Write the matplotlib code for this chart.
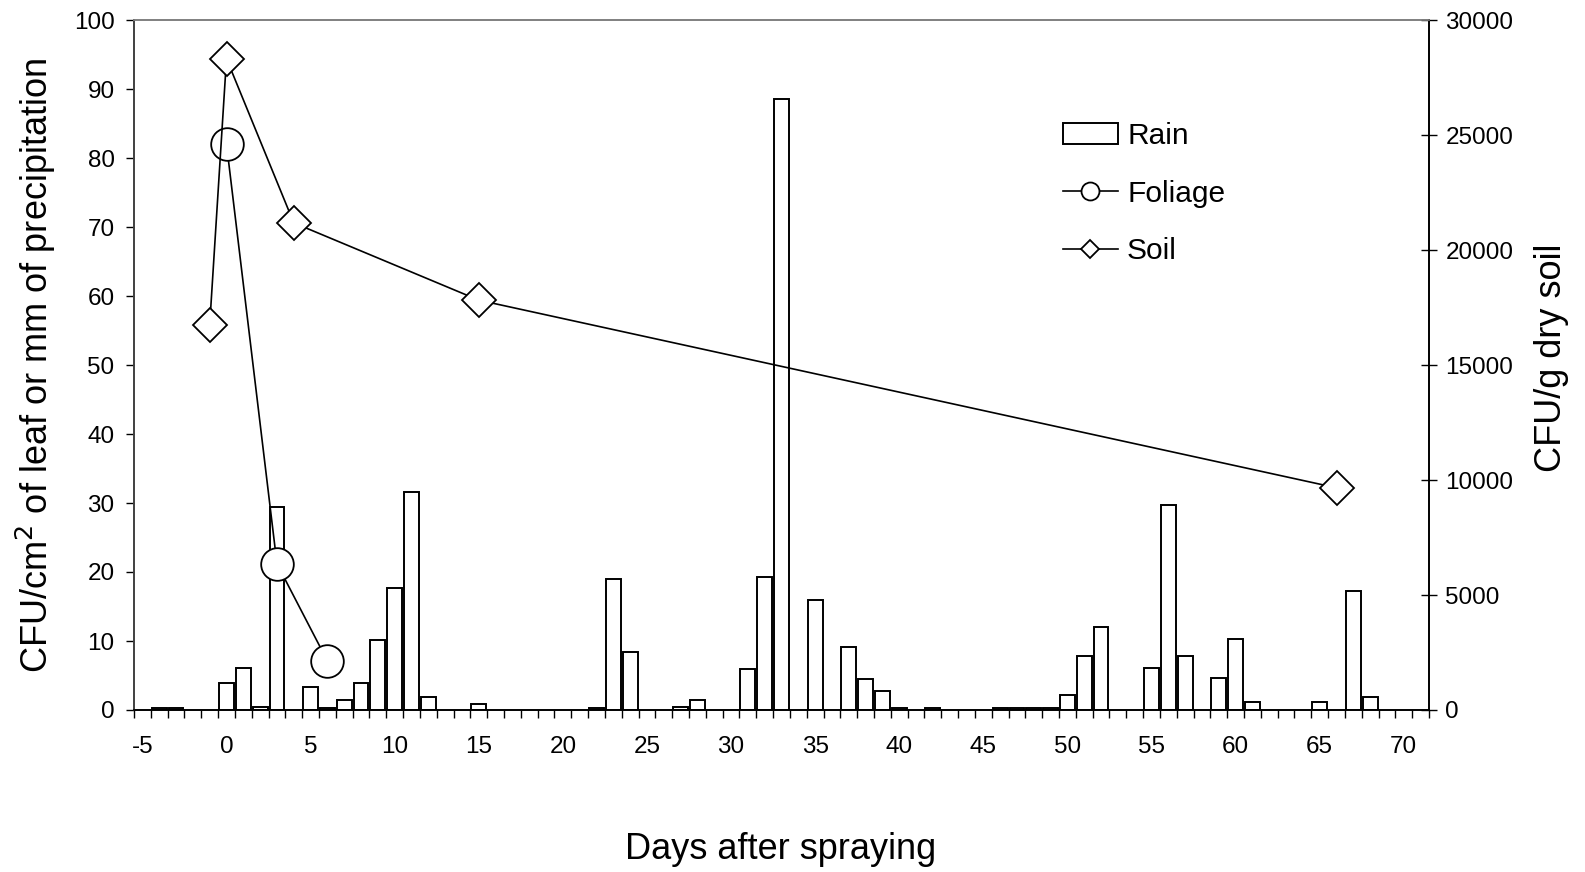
import numpy as np
import matplotlib
matplotlib.use('Agg')
import matplotlib.pyplot as plt
from matplotlib.ticker import FixedLocator

plt.rcParams['font.family'] = ['Liberation Sans', 'DejaVu Sans']
plt.rcParams['axes.unicode_minus'] = False

# Rain (mm) per day after spraying
rain_days = [-4, -3, 0, 1, 2, 3, 5, 6, 7, 8, 9, 10, 11, 12, 15, 22, 23, 24, 27, 28,
             31, 32, 33, 35, 37, 38, 39, 40, 42, 46, 47, 48, 49, 50, 51, 52,
             55, 56, 57, 59, 60, 61, 65, 67, 68]
rain_mm = [0.3, 0.3, 3.9, 6.1, 0.5, 29.4, 3.3, 0.25, 1.4, 3.9, 10.1, 17.7, 31.6, 1.9,
           0.8, 0.3, 19.0, 8.4, 0.5, 1.4, 5.9, 19.3, 88.5, 16.0, 9.2, 4.5, 2.8, 0.3,
           0.3, 0.3, 0.3, 0.3, 0.3, 2.2, 7.85, 12.0, 6.1, 29.7, 7.85, 4.7, 10.3, 1.1,
           1.1, 17.3, 1.9]

# Foliage CFU/cm2 (left axis)
foliage_days = [0, 3, 6]
foliage_cfu = [82.0, 21.2, 7.1]

# Soil CFU/g dry soil (right axis)
soil_days = [-1, 0, 4, 15, 66]
soil_cfu = [16740, 28320, 21180, 17820, 9660]

x_tick_labels = [-5, 0, 5, 10, 15, 20, 25, 30, 35, 40, 45, 50, 55, 60, 65, 70]

fig = plt.figure(figsize=(15.85, 8.72), dpi=100)
ax = fig.add_axes([134 / 1585, 1 - 710 / 872, (1429 - 134) / 1585, 690 / 872])
ax2 = ax.twinx()

bars = ax.bar(rain_days, rain_mm, width=0.88, color='white', edgecolor='black',
              linewidth=1.4, label='Rain', zorder=2)
fol, = ax.plot(foliage_days, foliage_cfu, color='black', lw=1.2, marker='o',
               ms=23.5, mfc='white', mec='black', mew=1.3, label='Foliage', zorder=3)
soil, = ax2.plot(soil_days, soil_cfu, color='black', lw=1.2, marker='D',
                 ms=17.5, mfc='white', mec='black', mew=1.3, label='Soil', zorder=3)

ax.set_xlim(-5.5, 71.5)
ax.set_ylim(0, 100)
ax2.set_ylim(0, 30000)

# category style x axis: ticks between days, labels every 5 days
ax.xaxis.set_major_locator(FixedLocator(x_tick_labels))
ax.xaxis.set_minor_locator(FixedLocator(np.arange(-5.5, 72, 1)))
ax.tick_params(axis='x', which='major', length=0, pad=19, labelsize=17.5)
ax.tick_params(axis='x', which='minor', length=6, width=1, direction='out')
ax.set_yticks(np.arange(0, 101, 10))
ax.tick_params(axis='y', length=6, width=1, direction='out', pad=8, labelsize=17.5)
ax2.set_yticks(np.arange(0, 30001, 5000))
ax2.tick_params(axis='y', length=11.5, width=1, direction='inout', pad=6, labelsize=17.5)

for a in (ax, ax2):
    a.spines['top'].set_color('#808080')
    a.spines['left'].set_color('#404040')
    a.spines['bottom'].set_color('black')
    a.spines['right'].set_color('black')
    for s in a.spines.values():
        s.set_linewidth(1.2)

ax.set_ylabel('CFU/cm$^2$ of leaf or mm of precipitation', fontsize=26)
ax.yaxis.set_label_coords(-0.0587, 0.5)
ax2.set_ylabel('CFU/g dry soil', fontsize=26)
ax2.yaxis.set_label_coords(1.081, 0.51)
ax.set_xlabel('Days after spraying', fontsize=26)
ax.xaxis.set_label_coords(0.4995, -0.177)

leg = ax2.legend([bars, fol, soil], ['Rain', 'Foliage', 'Soil'], loc='upper left',
                 bbox_to_anchor=(0.708, 0.87), frameon=False, fontsize=21.5,
                 markerscale=0.55, handlelength=1.85, labelspacing=1.0,
                 handletextpad=0.3, borderaxespad=0)

fig.savefig('out.png', dpi=100)
